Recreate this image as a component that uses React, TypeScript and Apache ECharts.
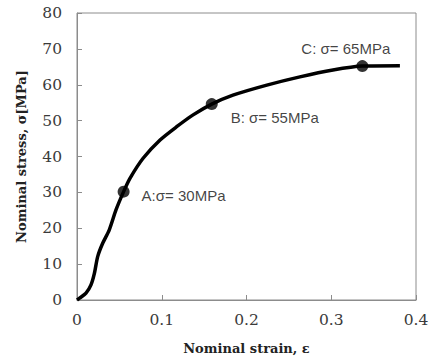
import React, { useEffect, useRef } from "react";
import * as echarts from "echarts";

const strain = [0, 0.003, 0.0106, 0.0165, 0.0205, 0.0244, 0.0303, 0.038, 0.046, 0.055, 0.0625, 0.078, 0.098, 0.1176, 0.137, 0.159, 0.184, 0.224, 0.263, 0.302, 0.3367, 0.381];
const stress = [0, 0.5, 1.9, 4.2, 7.4, 12.1, 15.8, 19.5, 25.1, 30.2, 33.9, 39.5, 44.6, 48.3, 51.6, 54.6, 57.1, 59.9, 62.2, 64.1, 65.2, 65.3];

const pointNames = ["A:σ= 30MPa", "B: σ= 55MPa", "C: σ= 65MPa"];
const pointStrain = [0.055, 0.159, 0.3367];
const pointStress = [30.2, 54.6, 65.2];

const xTicks = [0, 0.1, 0.2, 0.3, 0.4];
const yTicks = [0, 10, 20, 30, 40, 50, 60, 70, 80];

const labelOffsets: number[][] = [
  [7, 4],
  [8, 13],
  [-72, -18],
];

export default function App() {
  const ref = useRef<HTMLDivElement>(null);
  useEffect(() => {
    if (!ref.current) return;
    const chart = echarts.init(ref.current, undefined, { renderer: "svg" });
    const axisColor = "#8c8c8c";
    const serif = "'DejaVu Serif', serif";
    chart.setOption({
      animation: false,
      grid: {
        left: 77,
        right: 16,
        top: 13,
        bottom: 61,
        show: true,
        borderColor: axisColor,
        borderWidth: 1,
        backgroundColor: "transparent",
      },
      xAxis: {
        type: "value",
        min: xTicks[0],
        max: xTicks[xTicks.length - 1],
        interval: 0.1,
        name: "Nominal strain, ε",
        nameLocation: "middle",
        nameGap: 42,
        nameTextStyle: { fontFamily: serif, fontWeight: "bold", fontSize: 13, color: "#222" },
        axisLine: { show: true, lineStyle: { color: axisColor, width: 1 } },
        axisTick: { show: true, inside: true, length: 5, lineStyle: { color: axisColor } },
        axisLabel: { fontFamily: serif, fontSize: 15.5, color: "#3a3a3a", margin: 12 },
        splitLine: { show: false },
      },
      yAxis: {
        type: "value",
        min: yTicks[0],
        max: yTicks[yTicks.length - 1],
        interval: 10,
        name: "Nominal stress, σ[MPa]",
        nameLocation: "middle",
        nameGap: 49,
        nameTextStyle: { fontFamily: serif, fontWeight: "bold", fontSize: 13, color: "#222" },
        axisLine: { show: true, lineStyle: { color: axisColor, width: 1 } },
        axisTick: { show: true, inside: true, length: 5, lineStyle: { color: axisColor } },
        axisLabel: { fontFamily: serif, fontSize: 15.5, color: "#3a3a3a", margin: 15 },
        splitLine: { show: false },
      },
      series: [
        {
          type: "line",
          data: strain.map((x, i) => [x, stress[i]]),
          symbol: "none",
          smooth: 0.25,
          lineStyle: { color: "#000", width: 3.5 },
          z: 2,
        },
        {
          type: "scatter",
          data: pointStrain.map((x, i) => ({
            value: [x, pointStress[i]],
            label: {
              show: true,
              position: "right",
              offset: labelOffsets[i],
              formatter: pointNames[i],
            },
          })),
          symbol: "circle",
          symbolSize: 12,
          itemStyle: { color: "#000" },
          label: {
            fontFamily: "'Liberation Sans', Arial, sans-serif",
            fontSize: 15,
            color: "#111",
          },
          z: 3,
        },
      ],
    });
    return () => chart.dispose();
  }, []);
  return <div ref={ref} style={{ width: 432, height: 361, position: "absolute", left: 0, top: 0 }} />;
}
